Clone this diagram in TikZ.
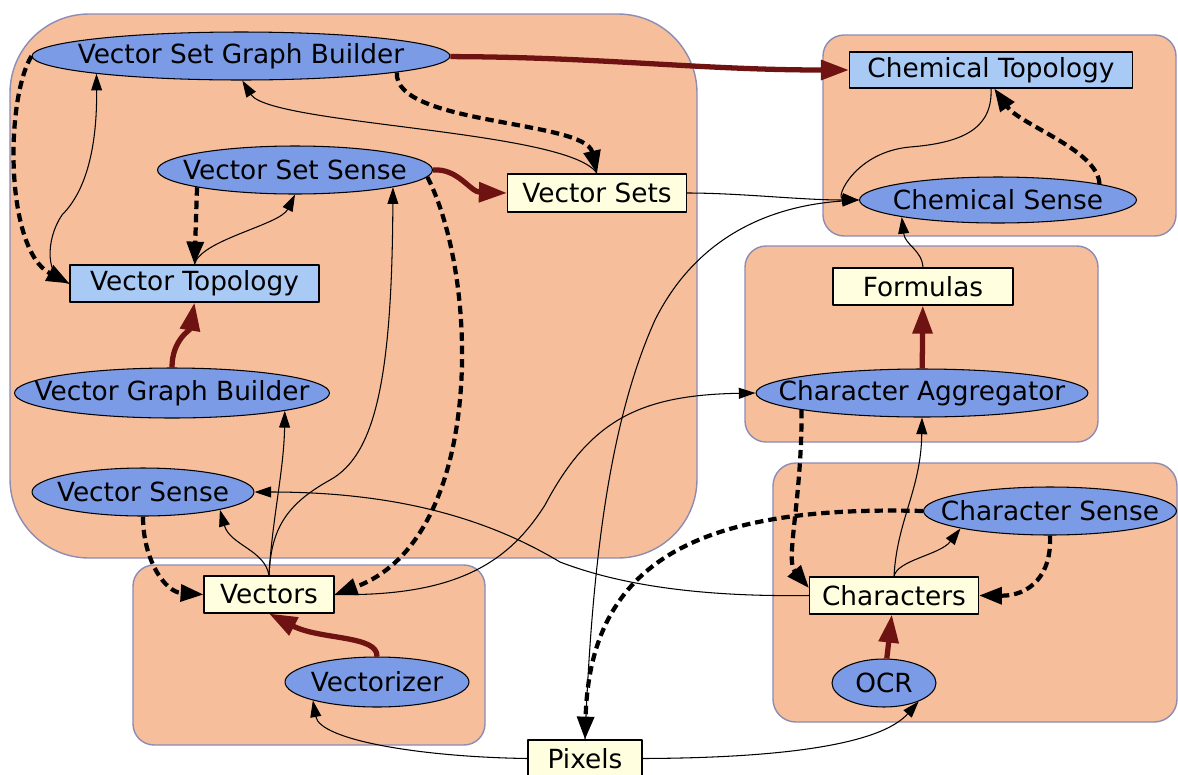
\documentclass[tikz,border=0pt]{standalone}
\usepackage{fontspec}
\setmainfont{DejaVu Sans}
\usepackage{tikz}
\usetikzlibrary{shapes.geometric,arrows.meta}
\definecolor{clusterpeach}{HTML}{F6BE9B}
\definecolor{clusterrim}{HTML}{8C8CB4}
\definecolor{procblue}{HTML}{7B9BE6}
\definecolor{topoblue}{HTML}{A8CAF5}
\definecolor{datayellow}{HTML}{FFFFE0}
\definecolor{buildred}{HTML}{6E1212}

\begin{document}
\begin{tikzpicture}[x=0.02cm, y=-0.02cm, line join=round,
  font=\fontsize{15}{18}\selectfont,
  cluster/.style={draw=clusterrim, fill=clusterpeach, line width=0.8pt},
  proc/.style={ellipse, draw, fill=procblue, line width=0.6pt, inner sep=0pt},
  topo/.style={rectangle, draw, fill=topoblue, line width=0.6pt, inner sep=0pt},
  data/.style={rectangle, draw, fill=datayellow, line width=0.6pt, inner sep=0pt},
  uses/.style={line width=0.6pt, -{Triangle[length=9.5pt,width=6.2pt]}},
  senses/.style={line width=2.4pt, dash pattern=on 4.8pt off 2.8pt,
    -{Triangle[length=13pt,width=9.5pt]}},
  builds/.style={buildred, line width=3pt, -{Triangle[length=16pt,width=11pt]}}]
  \useasboundingbox (0,0) rectangle (1178,775);
  % clusters
  \draw[cluster, rounded corners=45pt] (10,14) rectangle (697,558);
  \draw[cluster, rounded corners=12pt] (133,565) rectangle (485,745);
  \draw[cluster, rounded corners=12pt] (823,35) rectangle (1176,236);
  \draw[cluster, rounded corners=12pt] (745,246) rectangle (1098,442);
  \draw[cluster, rounded corners=13pt] (773,463) rectangle (1177,722);
  % vector side
  \node[proc, minimum width=8.36cm, minimum height=0.96cm,
    label=center:{Vector Set Graph Builder}] (vsgb) at (241,56) {};
  \node[proc, minimum width=5.5cm, minimum height=0.96cm,
    label=center:{Vector Set Sense}] (vssense) at (295,170) {};
  \node[data, minimum width=3.58cm, minimum height=0.76cm] (vsets) at (597,193) {Vector Sets};
  \node[topo, minimum width=4.98cm, minimum height=0.74cm] (vtopo) at (194.5,283.5) {Vector Topology};
  \node[proc, minimum width=6.3cm, minimum height=1cm,
    label=center:{Vector Graph Builder}] (vgb) at (172,393) {};
  \node[proc, minimum width=4.44cm, minimum height=0.96cm,
    label=center:{Vector Sense}] (vsense) at (143,492) {};
  \node[data, minimum width=2.6cm, minimum height=0.74cm] (vectors) at (269,594.5) {Vectors};
  \node[proc, minimum width=3.68cm, minimum height=1cm,
    label=center:{Vectorizer}] (vz) at (377,682) {};
  \node[data, minimum width=2.28cm, minimum height=0.74cm] (pixels) at (585,758.5) {Pixels};
  % chemical side
  \node[topo, minimum width=5.66cm, minimum height=0.72cm] (chemtopo) at (991,70) {Chemical Topology};
  \node[proc, minimum width=5.54cm, minimum height=0.92cm,
    label=center:{Chemical Sense}] (chemsense) at (998,200) {};
  \node[data, minimum width=3.6cm, minimum height=0.74cm] (formulas) at (923,286.5) {Formulas};
  \node[proc, minimum width=6.64cm, minimum height=0.96cm,
    label=center:{Character Aggregator}] (ca) at (922,393) {};
  \node[proc, minimum width=5.06cm, minimum height=0.96cm,
    label=center:{Character Sense}] (csense) at (1050,511) {};
  \node[data, minimum width=3.38cm, minimum height=0.74cm] (chars) at (894,595.5) {Characters};
  \node[proc, minimum width=2.08cm, minimum height=0.96cm,
    label=center:{OCR}] (ocr) at (884,683) {};
  % builders
  \draw[builds] (vsgb) .. controls (600,57) and (700,70) .. (chemtopo);
  \draw[builds] (vssense.east) .. controls (458,168) and (470,192) .. (vsets.west);
  \draw[builds] (vgb.north) .. controls (172,340) and (190,330) .. (vtopo.south);
  \draw[builds] (vz.north) .. controls (378,635) and (320,640) .. (vectors.south);
  \draw[builds] (ca) -- (formulas);
  \draw[builds] (ocr) -- (chars);
  % senses write back
  \draw[senses] (vsgb.-6.6) .. controls (393,125) and (585,120) .. (vsets.north);
  \draw[senses] (vsgb.west) .. controls (5,100) and (5,250) .. (vtopo.west);
  \draw[senses] (vssense.-170) -- (vtopo.north);
  \draw[senses] (vssense.-3) .. controls (480,280) and (485,540) .. (vectors.east);
  \draw[senses] (vsense.south) .. controls (143,560) and (165,592) .. (vectors.west);
  \draw[senses] (chemsense.9) .. controls (1098,150) and (1020,125) .. (chemtopo.-80);
  \draw[senses] (ca.-172) .. controls (802,500) and (785,560) .. (chars.175);
  \draw[senses] (csense.west) .. controls (700,505) and (590,560) .. (pixels.north);
  \draw[senses] (csense.south) .. controls (1052,575) and (1030,596) .. (chars.east);
  % reads
  \draw[uses] (vsets.north) .. controls (570,130) and (270,125) .. (vsgb.-87);
  \draw[uses] (vtopo.west) .. controls (45,280) and (45,240) .. (62,215)
    .. controls (92,185) and (97,130) .. (vsgb.-173);
  \draw[uses] (vtopo.north) .. controls (200,240) and (280,225) .. (vssense.south);
  \draw[uses] (vectors.north) .. controls (271,530) and (285,505) .. (330,480)
    .. controls (375,455) and (392,380) .. (vssense.-10);
  \draw[uses] (vectors.north) .. controls (272,520) and (284,470) .. (vgb.-9);
  \draw[uses] (vectors.north) .. controls (265,550) and (230,545) .. (vsense.-13);
  \draw[uses] (chars.west) .. controls (700,597) and (620,585) .. (560,562)
    .. controls (490,520) and (400,492) .. (vsense.east);
  \draw[uses] (vsets.east) .. controls (740,193) and (800,200) .. (chemsense.west);
  \draw[uses] (chemtopo.south) .. controls (993,130) and (960,143) .. (910,147)
    .. controls (855,152) and (835,198) .. (chemsense.west);
  \draw[uses] (formulas.north) .. controls (922,250) and (905,245) .. (chemsense.-170);
  \draw[uses] (vectors.east) .. controls (460,597) and (510,560) .. (545,505)
    .. controls (590,420) and (640,395) .. (ca.west);
  \draw[uses] (pixels.north) .. controls (592,560) and (610,420) .. (655,320)
    .. controls (700,230) and (780,205) .. (chemsense.west);
  \draw[uses] (chars.north) .. controls (897,520) and (921,490) .. (ca.south);
  \draw[uses] (chars.north) .. controls (897,560) and (940,555) .. (csense.-169);
  \draw[uses] (pixels.east) .. controls (780,758) and (880,745) .. (ocr.-28);
  \draw[uses] (pixels.west) .. controls (420,757) and (320,740) .. (vz.-164);
\end{tikzpicture}
\end{document}
